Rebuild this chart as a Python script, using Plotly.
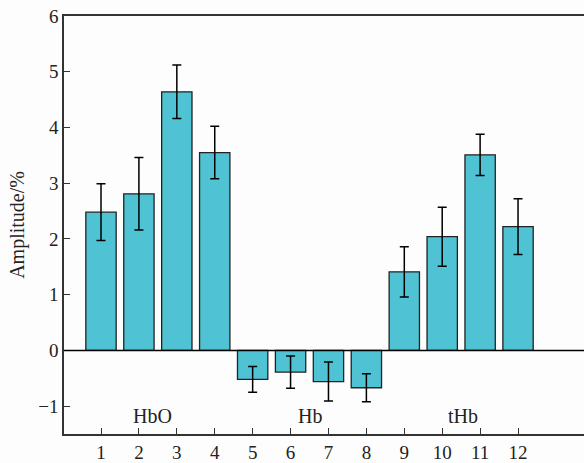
import plotly.graph_objects as go

channels = [1, 2, 3, 4, 5, 6, 7, 8, 9, 10, 11, 12]
amplitude = [2.48, 2.81, 4.64, 3.55, -0.52, -0.39, -0.56, -0.67, 1.41, 2.04, 3.51, 2.22]
error = [0.51, 0.65, 0.48, 0.47, 0.23, 0.29, 0.35, 0.25, 0.45, 0.53, 0.37, 0.5]
group_labels = ["HbO", "Hb", "tHb"]
group_x = [2.36, 6.5, 10.55]
group_y = [-1.18, -1.18, -1.18]
y_ticks = [-1, 0, 1, 2, 3, 4, 5, 6]

font_family = "'Liberation Serif', 'Times New Roman', serif"

fig = go.Figure()
fig.add_trace(go.Bar(
    x=channels, y=amplitude, width=0.8,
    marker=dict(color="#4FC3D3", line=dict(color="#222222", width=1.3)),
    error_y=dict(type="data", array=error, visible=True, color="black",
                 thickness=1.5, width=4.5),
    showlegend=False,
))

for lab, gx, gy in zip(group_labels, group_x, group_y):
    fig.add_annotation(x=gx, y=gy, text=lab, showarrow=False,
                       font=dict(family=font_family, size=20, color="#222222"),
                       xanchor="center", yanchor="middle")

fig.add_hline(y=0, line=dict(color="black", width=1.5), layer="above")

fig.update_layout(
    width=584, height=463,
    margin=dict(l=64, r=0, t=16, b=27),
    paper_bgcolor="#fdfdfd", plot_bgcolor="#fdfdfd",
    font=dict(family=font_family, size=19, color="#222222"),
    bargap=0.2,
)
fig.update_xaxes(
    range=[0.024, 13.74], tickmode="array", tickvals=channels,
    ticktext=[str(c) for c in channels],
    showgrid=False, zeroline=False, showline=True, linecolor="#333333",
    linewidth=1.5, mirror=True, ticks="inside", ticklen=6, tickwidth=1.3,
    tickcolor="#333333", tickfont=dict(size=19),
)
fig.update_yaxes(
    range=[-1.5, 6], tickmode="array", tickvals=y_ticks,
    showgrid=False, zeroline=False, showline=True, linecolor="#333333",
    linewidth=1.5, ticks="inside", ticklen=6, tickwidth=1.3, tickcolor="#333333",
    tickfont=dict(size=19),
    title=dict(text="Amplitude/%", font=dict(size=20), standoff=8),
)

fig.write_html("out.html")
